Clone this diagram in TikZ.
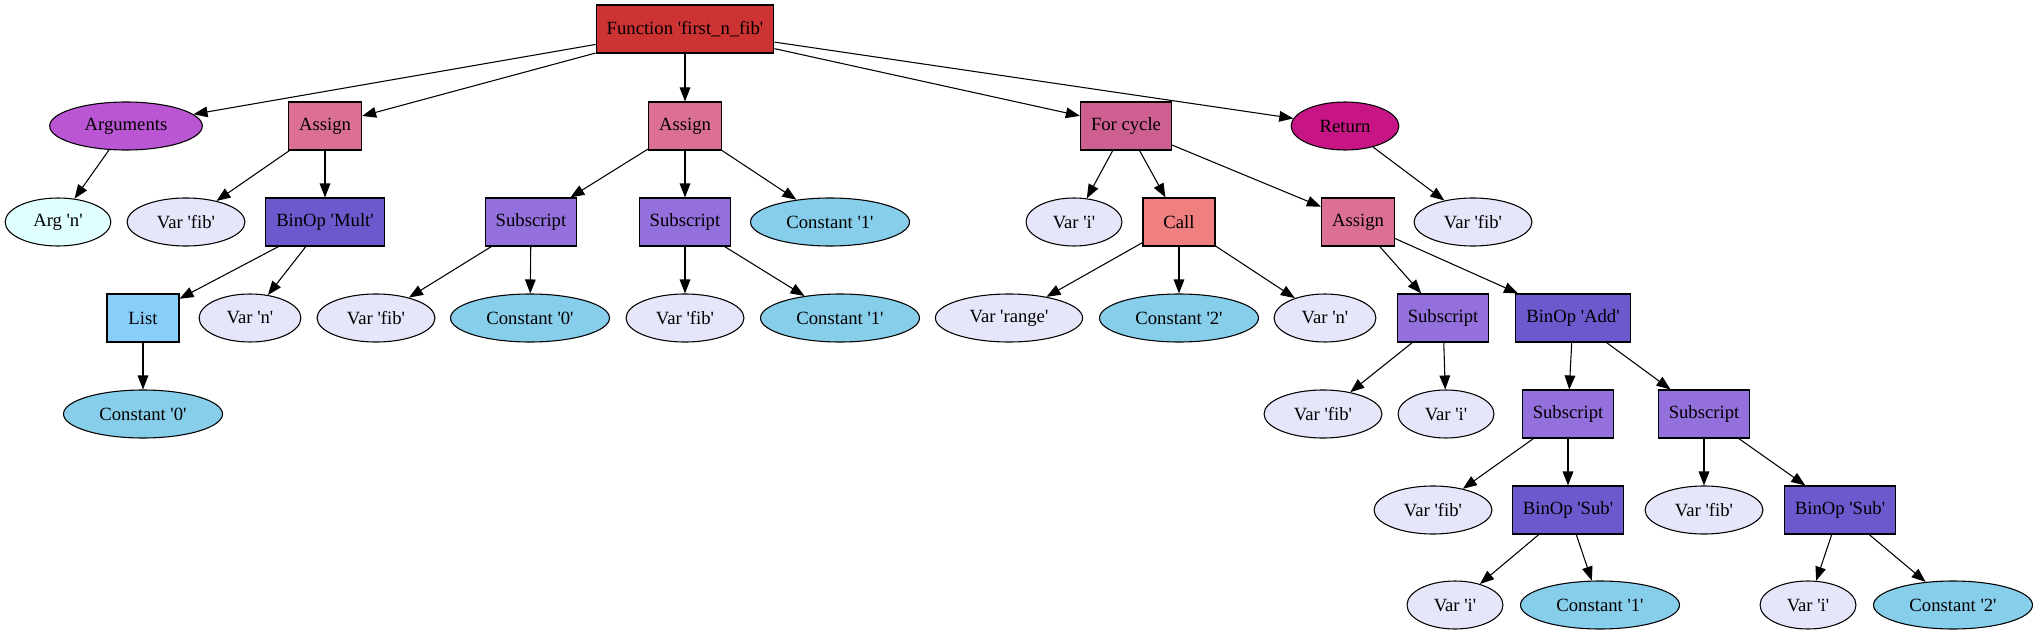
\documentclass[tikz,border=0pt]{standalone}
\usepackage{fontspec}
\newfontfamily\gvfont{Liberation Serif}
\usetikzlibrary{arrows.meta,shapes.geometric}

\definecolor{fncol}{RGB}{205,51,51}
\definecolor{argscol}{RGB}{186,85,211}
\definecolor{asgcol}{RGB}{219,112,147}
\definecolor{forcol}{RGB}{205,96,144}
\definecolor{retcol}{RGB}{199,21,133}
\definecolor{argcol}{RGB}{224,255,255}
\definecolor{varcol}{RGB}{230,230,250}
\definecolor{bincol}{RGB}{106,90,205}
\definecolor{subcol}{RGB}{147,112,219}
\definecolor{constcol}{RGB}{135,206,235}
\definecolor{listcol}{RGB}{135,206,250}
\definecolor{callcol}{RGB}{240,128,128}

\begin{document}
\begin{tikzpicture}[x=0.75pt,y=-0.75pt,line width=0.8pt,
  every node/.style={draw,font=\gvfont\fontsize{14}{16}\selectfont,
    minimum height=36pt,inner xsep=8pt,inner ysep=4pt},
  box/.style={rectangle,minimum width=54pt},
  oval/.style={ellipse,minimum width=54pt,inner xsep=9.5pt},
  edge/.style={-{Triangle[length=10.5pt,width=8pt]}}]

  \useasboundingbox (0,0) rectangle (2036,635);

  % level 0
  \node [box,fill=fncol] (fn) at (685,29) {Function 'first\_n\_fib'};

  % level 1
  \node [oval,fill=argscol] (args) at (126,126) {Arguments};
  \node [box,fill=asgcol] (asgA) at (325,126) {Assign};
  \node [box,fill=asgcol] (asgB) at (685,126) {Assign};
  \node [box,fill=forcol] (loop) at (1126,126) {For cycle};
  \node [oval,fill=retcol] (ret) at (1345,126) {Return};

  % level 2
  \node [oval,fill=argcol] (argn) at (58,222) {Arg 'n'};
  \node [oval,fill=varcol] (fibA) at (186,222) {Var 'fib'};
  \node [box,fill=bincol] (mult) at (325,222) {BinOp 'Mult'};
  \node [box,fill=subcol] (subA) at (531,222) {Subscript};
  \node [box,fill=subcol] (subB) at (685,222) {Subscript};
  \node [oval,fill=constcol] (oneA) at (830,222) {Constant '1'};
  \node [oval,fill=varcol] (iA) at (1074,222) {Var 'i'};
  \node [box,fill=callcol] (call) at (1179,222) {Call};
  \node [box,fill=asgcol] (asgC) at (1358,222) {Assign};
  \node [oval,fill=varcol] (fibR) at (1473,222) {Var 'fib'};

  % level 3
  \node [box,fill=listcol] (list) at (143,318) {List};
  \node [oval,fill=varcol] (nA) at (250,318) {Var 'n'};
  \node [oval,fill=varcol] (fibB) at (376,318) {Var 'fib'};
  \node [oval,fill=constcol] (zeroA) at (530,318) {Constant '0'};
  \node [oval,fill=varcol] (fibC) at (685,318) {Var 'fib'};
  \node [oval,fill=constcol] (oneB) at (840,318) {Constant '1'};
  \node [oval,fill=varcol] (rng) at (1009,318) {Var 'range'};
  \node [oval,fill=constcol] (twoA) at (1179,318) {Constant '2'};
  \node [oval,fill=varcol] (nB) at (1325,318) {Var 'n'};
  \node [box,fill=subcol] (subC) at (1443,318) {Subscript};
  \node [box,fill=bincol] (add) at (1573,318) {BinOp 'Add'};

  % level 4
  \node [oval,fill=constcol] (zeroB) at (143,414) {Constant '0'};
  \node [oval,fill=varcol] (fibD) at (1323,414) {Var 'fib'};
  \node [oval,fill=varcol] (iB) at (1446,414) {Var 'i'};
  \node [box,fill=subcol] (subD) at (1568,414) {Subscript};
  \node [box,fill=subcol] (subE) at (1704,414) {Subscript};

  % level 5
  \node [oval,fill=varcol] (fibE) at (1433,510) {Var 'fib'};
  \node [box,fill=bincol] (minA) at (1568,510) {BinOp 'Sub'};
  \node [oval,fill=varcol] (fibF) at (1704,510) {Var 'fib'};
  \node [box,fill=bincol] (minB) at (1840,510) {BinOp 'Sub'};

  % level 6
  \node [oval,fill=varcol] (iC) at (1455,605) {Var 'i'};
  \node [oval,fill=constcol] (oneC) at (1600,605) {Constant '1'};
  \node [oval,fill=varcol] (iD) at (1808,605) {Var 'i'};
  \node [oval,fill=constcol] (twoB) at (1953,605) {Constant '2'};

  % edges
  \foreach \a/\b in {fn/args,fn/asgA,fn/asgB,fn/loop,fn/ret,
      args/argn,asgA/fibA,asgA/mult,mult/list,mult/nA,list/zeroB,
      asgB/subA,asgB/subB,asgB/oneA,subA/fibB,subA/zeroA,subB/fibC,subB/oneB,
      loop/iA,loop/call,loop/asgC,ret/fibR,
      call/rng,call/twoA,call/nB,asgC/subC,asgC/add,
      subC/fibD,subC/iB,add/subD,add/subE,
      subD/fibE,subD/minA,subE/fibF,subE/minB,
      minA/iC,minA/oneC,minB/iD,minB/twoB}
    \draw [edge] (\a) -- (\b);
\end{tikzpicture}
\end{document}
